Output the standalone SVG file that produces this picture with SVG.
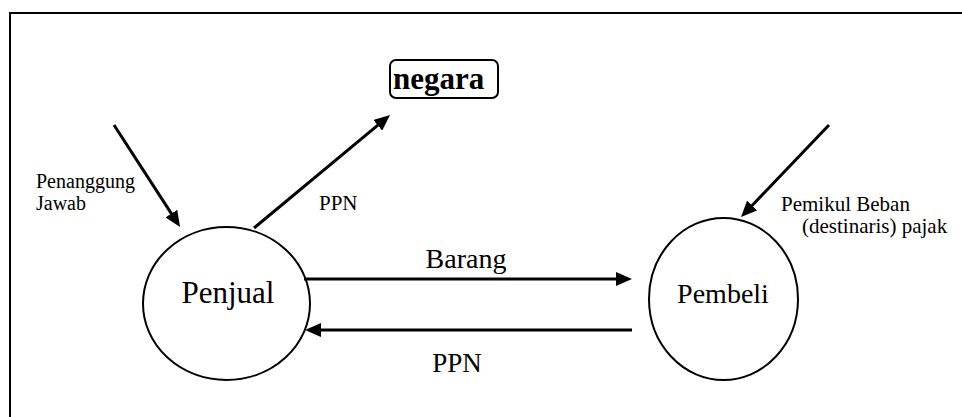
<svg xmlns="http://www.w3.org/2000/svg" width="962" height="417" viewBox="0 0 962 417">
<style>
.ln{stroke:#000;stroke-width:3;fill:none}
.nd{stroke:#000;stroke-width:2;fill:#fff}
text{font-family:"Liberation Serif","Times New Roman",serif;fill:#000}
</style>
<defs>
<marker id="ah" markerUnits="userSpaceOnUse" viewBox="0 0 16 14" markerWidth="16" markerHeight="14" refX="1" refY="7" orient="auto">
<path d="M0,0 L16,7 L0,14 z" fill="#000"/>
</marker>
</defs>
<rect width="962" height="417" fill="#fff"/>
<path d="M10,418 V13 H963" stroke="#000" stroke-width="2" fill="none"/>
<g id="negara">
<rect x="390" y="60" width="108" height="38" rx="6" ry="6" fill="#fff" stroke="#000" stroke-width="2"/>
<text x="393" y="89" font-size="31" font-weight="bold">negara</text>
</g>
<g id="penjual">
<ellipse cx="226.5" cy="303.5" rx="83.5" ry="76.5" class="nd"/>
<text x="228" y="303" font-size="31" text-anchor="middle">Penjual</text>
</g>
<g id="pembeli">
<ellipse cx="723.5" cy="299" rx="74.5" ry="81" class="nd"/>
<text x="723" y="303" font-size="28" text-anchor="middle">Pembeli</text>
</g>
<g id="connectors">
<line x1="304" y1="279" x2="617" y2="279" class="ln" marker-end="url(#ah)"/>
<line x1="632" y1="330" x2="320" y2="330" class="ln" marker-end="url(#ah)"/>
<line x1="114" y1="125" x2="171.9" y2="214.4" class="ln" marker-end="url(#ah)"/>
<line x1="254" y1="228" x2="378.5" y2="124.6" class="ln" marker-end="url(#ah)"/>
<line x1="829" y1="125" x2="751.4" y2="206.2" class="ln" marker-end="url(#ah)"/>
</g>
<g id="labels">
<text x="466" y="268" font-size="28" text-anchor="middle">Barang</text>
<text x="457" y="372" font-size="27" text-anchor="middle">PPN</text>
<text x="36" y="188" font-size="20">Penanggung</text>
<text x="36" y="210" font-size="20">Jawab</text>
<text x="319" y="210" font-size="21">PPN</text>
<text x="781" y="211" font-size="21">Pemikul Beban</text>
<text x="802" y="233" font-size="21">(destinaris) pajak</text>
</g>
</svg>
